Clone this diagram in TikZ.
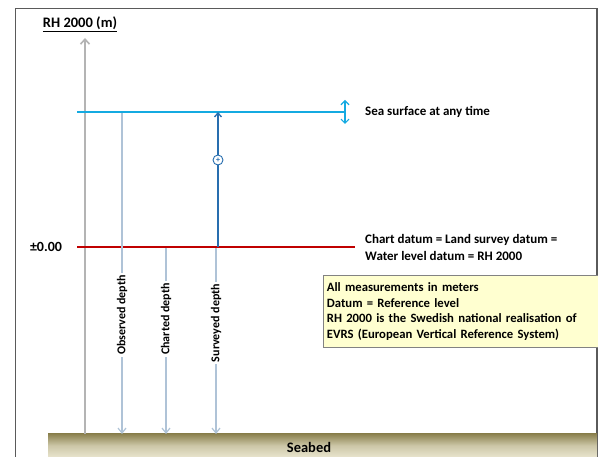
\documentclass[tikz,border=0pt]{standalone}
\usepackage{fontspec}
\setmainfont{Carlito}
\usetikzlibrary{arrows.meta}
\definecolor{frameC}{RGB}{90,90,90}
\definecolor{axisC}{RGB}{180,180,180}
\definecolor{seaC}{RGB}{20,170,225}
\definecolor{datumC}{RGB}{192,0,0}
\definecolor{survC}{RGB}{40,110,175}
\definecolor{depthC}{RGB}{175,195,215}
\definecolor{noteFill}{RGB}{255,255,208}
\definecolor{noteDraw}{RGB}{130,130,130}
\definecolor{bedTop}{RGB}{140,130,80}
\definecolor{bedBot}{RGB}{232,228,205}
\tikzset{
  lbl/.style={font=\bfseries\fontsize{13}{17}\selectfont, text=black, inner sep=1pt},
  depthline/.style={draw=depthC, line width=1.2pt, -{Straight Barb[length=5pt,width=8pt]}},
  vlbl/.style={lbl, font=\bfseries\fontsize{12}{14}\selectfont, rotate=90, fill=white, inner sep=2pt},
}
\begin{document}
\begin{tikzpicture}[x=1pt,y=-1pt]
\useasboundingbox (0,0) rectangle (598,457);
\fill[white] (0,0) rectangle (598,457);
% frame
\draw[frameC, line width=1.5pt] (15.5,457) -- (15.5,8.5) -- (597,8.5) -- (597,457);
% seabed
\shade[top color=bedTop, bottom color=bedBot, middle color=bedBot!70!bedTop] (48,434) rectangle (597,457);
\node[lbl, font=\bfseries\fontsize{14.5}{16}\selectfont] (seabed) at (309,447) {Seabed};
% title
\node[lbl, font=\bfseries\fontsize{14.5}{16}\selectfont] (title) at (80,24) {\underline{RH 2000 (m)}};
% axis
\coordinate (axB) at (85,434);
\coordinate (axT) at (85,38);
\draw[axisC, line width=1.6pt, -{Straight Barb[length=5pt,width=9pt]}] (axB) -- (axT);
% sea surface
\coordinate (seaL) at (77,112);
\coordinate (seaR) at (345,112);
\draw[seaC, line width=1.8pt] (seaL) -- (seaR);
\coordinate (ssT) at (345,100);
\coordinate (ssB) at (345,124);
\draw[seaC, line width=1.2pt, {Straight Barb[length=4pt,width=8pt]}-{Straight Barb[length=4pt,width=8pt]}] (ssB) -- (ssT);
\node[lbl, anchor=west] (seatxt) at (364,112) {Sea surface at any time};
% datum
\coordinate (datL) at (77,247);
\coordinate (datR) at (355,247);
\draw[datumC, line width=1.8pt] (datL) -- (datR);
\node[lbl, anchor=west, align=left] (dattxt) at (364,247.5) {Chart datum = Land survey datum =\\Water level datum = RH 2000};
\node[lbl, font=\bfseries\fontsize{14}{16}\selectfont] (zero) at (46,247) {±0.00};
% surveyed arrow up
\coordinate (svB) at (218,247);
\coordinate (svT) at (218,112);
\draw[survC, line width=1.3pt, -{Straight Barb[length=4pt,width=7pt]}] (svB) -- (svT);
\node[draw=survC, fill=white, circle, line width=0.9pt, minimum size=10pt, inner sep=0pt, text=survC, font=\bfseries\fontsize{8}{8}\selectfont] (plus) at (218,160) {+};
% depths
\coordinate (obT) at (122,113);
\coordinate (obB) at (122,434);
\draw[depthline] (obT) -- (obB);
\node[vlbl] (oblbl) at (122,315) {Observed depth};
\coordinate (chT) at (166,248);
\coordinate (chB) at (166,434);
\draw[depthline] (chT) -- (chB);
\node[vlbl] (chlbl) at (166,319) {Charted depth};
\coordinate (suT) at (216,248);
\coordinate (suB) at (216,434);
\draw[depthline] (suT) -- (suB);
\node[vlbl] (sulbl) at (216,323) {Surveyed depth};
% note box
\node[draw=noteDraw, fill=noteFill, line width=0.8pt, anchor=north west, minimum width=276pt, minimum height=72pt, text width=268pt, align=left, inner sep=4pt, font=\bfseries\fontsize{12.7}{15.5}\selectfont] (note) at (322.5,275) {All measurements in meters\\Datum = Reference level\\RH 2000 is the Swedish national realisation of\\EVRS (European Vertical Reference System)};
\end{tikzpicture}
\end{document}
